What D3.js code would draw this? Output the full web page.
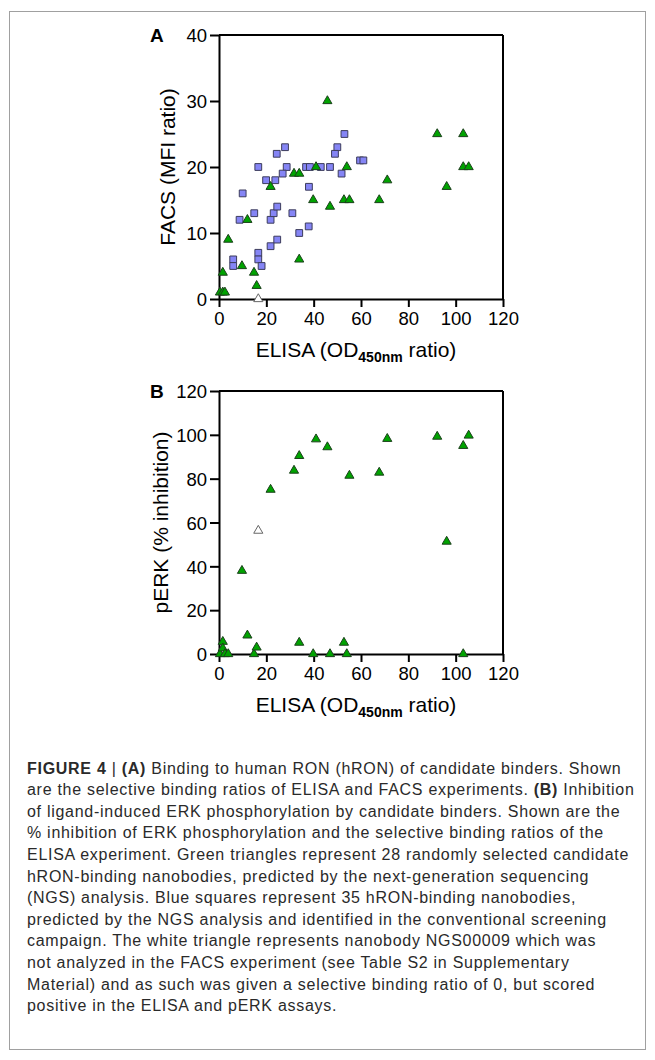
<!DOCTYPE html>
<html>
<head>
<meta charset="utf-8">
<script src="https://cdn.jsdelivr.net/npm/d3@7"></script>
<style>
  body { margin: 0; background: #fff; }
  svg { display: block; font-family: "Liberation Sans", Arial, sans-serif; }
</style>
</head>
<body>
<svg id="fig" width="655" height="1060"></svg>
<script>
// green triangles: candidate binders (shared ELISA ratio, FACS ratio, pERK inhibition)
var elisaGreen = [0.4, 1.6, 1.6, 2.5, 3.9, 9.7, 12, 14.8, 15.9, 21.8, 31.7, 33.9, 33.9, 39.8, 41, 45.8,
                  46.9, 52.8, 54, 55.1, 67.7, 71.1, 92.2, 96.2, 103.2, 103.2, 105.5];
var facsGreen  = [1, 4, 1, 1, 9, 5, 12, 4, 2, 17, 19, 19, 6, 15, 20, 30,
                  14, 15, 20, 15, 15, 18, 25, 17, 25, 20, 20];
var perkGreen  = [0, 5.6, 2.6, 0, 0, 38, 8.5, 0, 3, 75, 83.7, 90.4, 5.2, 0, 98, 94.4,
                  0, 5.2, 0, 81.4, 82.8, 98.2, 99.2, 51.3, 95, 0, 99.7];

// blue squares: screening campaign binders (panel A only)
var elisaBlue = [16.6, 28.6, 19.9, 23.8, 26.9, 10, 14.9, 8.7, 21.8, 23.1, 24.6, 31, 38, 33.9, 37.9, 21.8, 24.6,
                 6, 6, 16.6, 16.6, 18, 36.8, 38.4, 43, 46.9, 24.4, 27.9, 50, 49, 51.8, 53, 59.6, 61];
var facsBlue  = [20, 20, 18, 18, 19, 16, 13, 12, 12, 13, 14, 13, 17, 10, 11, 8, 9,
                 6, 5, 7, 6, 5, 20, 20, 20, 20, 22, 23, 23, 22, 19, 25, 21, 21];

// white triangle: NGS00009 (not in FACS)
var elisaWhite = [16.6];
var facsWhite  = [0];
var perkWhite  = [56.3];

var xTicks = [0, 20, 40, 60, 80, 100, 120];
var yTicksA = [0, 10, 20, 30, 40];
var yTicksB = [0, 20, 40, 60, 80, 100, 120];

var captionLines = [
  [["FIGURE 4", 1], [" | ", 0], ["(A)", 1], [" Binding to human RON (hRON) of candidate binders. Shown", 0]],
  [["are the selective binding ratios of ELISA and FACS experiments. ", 0], ["(B)", 1], [" Inhibition", 0]],
  [["of ligand-induced ERK phosphorylation by candidate binders. Shown are the", 0]],
  [["% inhibition of ERK phosphorylation and the selective binding ratios of the", 0]],
  [["ELISA experiment. Green triangles represent 28 randomly selected candidate", 0]],
  [["hRON-binding nanobodies, predicted by the next-generation sequencing", 0]],
  [["(NGS) analysis. Blue squares represent 35 hRON-binding nanobodies,", 0]],
  [["predicted by the NGS analysis and identified in the conventional screening", 0]],
  [["campaign. The white triangle represents nanobody NGS00009 which was", 0]],
  [["not analyzed in the FACS experiment (see Table S2 in Supplementary", 0]],
  [["Material) and as such was given a selective binding ratio of 0, but scored", 0]],
  [["positive in the ELISA and pERK assays.", 0]]
];

var svg = d3.select("#fig");

// outer figure frame
svg.append("rect").attr("x", 9.5).attr("y", 11.5).attr("width", 636).attr("height", 1038)
    .attr("fill", "none").attr("stroke", "#a0a0a0").attr("stroke-width", 1);

var x = d3.scaleLinear().domain([0, 120]).range([219, 503]);
var yA = d3.scaleLinear().domain([0, 40]).range([299, 35]);
var yB = d3.scaleLinear().domain([0, 120]).range([654, 391]);

var triangle = d3.symbol().type(d3.symbolTriangle).size(36);
var square = d3.symbol().type(d3.symbolSquare).size(46);

/**
 * Draw one panel frame with axes.
 */
function drawPanel(y, yTicks, letter, yLabel, yLabelX) {
    var g = svg.append("g");
    // box top and right
    g.append("line").attr("x1", x(0)).attr("x2", x(120)).attr("y1", y.range()[1]).attr("y2", y.range()[1])
        .attr("stroke", "#000").attr("stroke-width", 2);
    g.append("line").attr("x1", x(120)).attr("x2", x(120)).attr("y1", y.range()[1]).attr("y2", y.range()[0])
        .attr("stroke", "#000").attr("stroke-width", 2);

    var xAxis = g.append("g").attr("transform", "translate(0," + y.range()[0] + ")")
        .call(d3.axisBottom(x).tickValues(xTicks).tickSize(8).tickSizeOuter(0).tickPadding(5));
    var yAxis = g.append("g").attr("transform", "translate(" + x(0) + ",0)")
        .call(d3.axisLeft(y).tickValues(yTicks).tickSize(9).tickSizeOuter(0).tickPadding(3));
    [xAxis, yAxis].forEach(a => {
        a.select(".domain").attr("stroke-width", 2);
        a.selectAll(".tick line").attr("stroke-width", 2);
        a.selectAll(".tick text").attr("font-size", "18.5px").attr("fill", "#000")
            .attr("font-family", "Liberation Sans, Arial, sans-serif");
    });
    yAxis.selectAll(".tick text").attr("dy", "0.36em");

    // panel letter
    g.append("text").attr("x", 150).attr("y", y.range()[1] + 7).text(letter)
        .attr("font-size", "19px").attr("font-weight", "bold");

    // x label with subscript
    var xl = g.append("text").attr("x", 356).attr("y", y.range()[0] + 58)
        .attr("text-anchor", "middle").attr("font-size", "21px");
    xl.append("tspan").text("ELISA (OD");
    xl.append("tspan").text("450nm").attr("font-size", "14px").attr("font-weight", "bold").attr("dy", 5);
    xl.append("tspan").text(" ratio)").attr("dy", -5);

    // y label
    var cy = (y.range()[0] + y.range()[1]) / 2;
    g.append("text").attr("transform", "translate(" + yLabelX + "," + cy + ") rotate(-90)")
        .attr("text-anchor", "middle").attr("font-size", "21px").text(yLabel);
}

drawPanel(yA, yTicksA, "A", "FACS (MFI ratio)", 175);
drawPanel(yB, yTicksB, "B", "pERK (% inhibition)", 168);

/**
 * Plot markers for one series.
 */
function plotPoints(xs, ys, y, sym, fill, stroke) {
    svg.append("g").selectAll("path")
        .data(xs.map((v, i) => [v, ys[i]]))
        .join("path")
        .attr("d", sym)
        .attr("transform", d => "translate(" + x(d[0]) + "," + y(d[1]) + ")")
        .attr("fill", fill)
        .attr("stroke", stroke)
        .attr("stroke-width", 1);
}

// panel A
plotPoints(elisaBlue, facsBlue, yA, square, "#8585f5", "#3c3c5c");
plotPoints(elisaGreen, facsGreen, yA, triangle, "#00a300", "#1c401c");
plotPoints(elisaWhite, facsWhite, yA, triangle, "#ffffff", "#666");
// panel B
plotPoints(elisaGreen, perkGreen, yB, triangle, "#00a300", "#1c401c");
plotPoints(elisaWhite, perkWhite, yB, triangle, "#ffffff", "#666");

// caption
var cap = svg.append("g").attr("font-size", "16px").attr("fill", "#2a2a2a")
    .attr("letter-spacing", "0.72px");
captionLines.forEach((line, i) => {
    var t = cap.append("text").attr("x", 27).attr("y", 773.5 + i * 21.6);
    line.forEach(part => {
        t.append("tspan").text(part[0]).attr("font-weight", part[1] ? "bold" : "normal");
    });
});
</script>
</body>
</html>
